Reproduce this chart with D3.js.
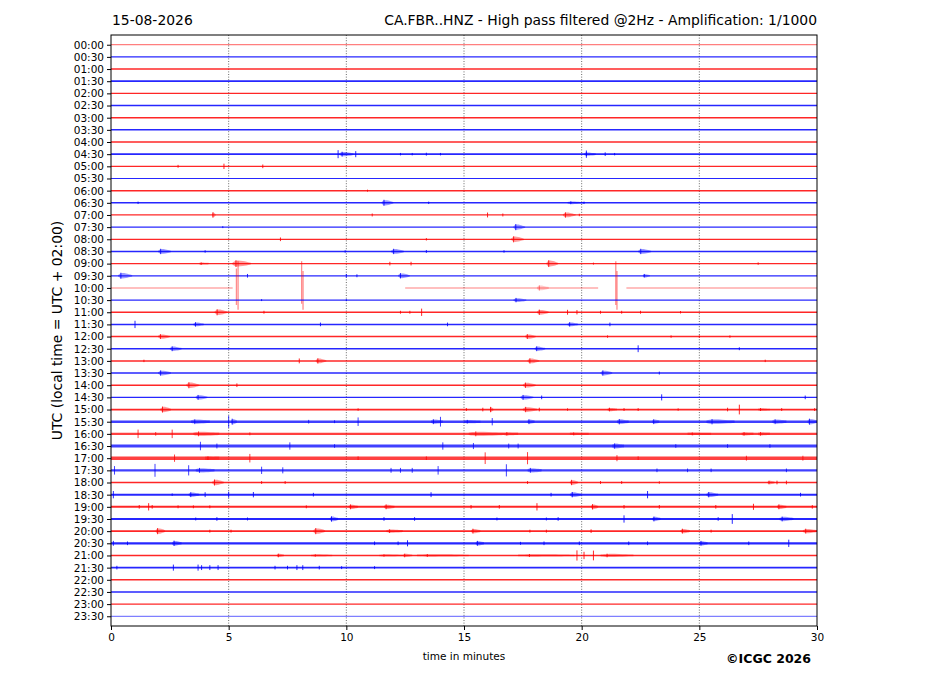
<!DOCTYPE html>
<html>
<head>
<meta charset="utf-8">
<script src="https://cdn.jsdelivr.net/npm/d3@7"></script>
<style>
  body { margin: 0; background: #fff; }
  svg { font-family: "DejaVu Sans", sans-serif; }
</style>
</head>
<body>
<svg id="heli" width="927" height="696"></svg>
<script>
var dayLabel = "15-08-2026";
var titleText = "CA.FBR..HNZ - High pass filtered @2Hz - Amplification: 1/1000";
var yAxisLabel = "UTC (local time = UTC + 02:00)";
var xAxisLabel = "time in minutes";
var creditText = "\u00a9ICGC 2026";

var hourLabels = ["00:00", "00:30", "01:00", "01:30", "02:00", "02:30", "03:00", "03:30",
  "04:00", "04:30", "05:00", "05:30", "06:00", "06:30", "07:00", "07:30",
  "08:00", "08:30", "09:00", "09:30", "10:00", "10:30", "11:00", "11:30",
  "12:00", "12:30", "13:00", "13:30", "14:00", "14:30", "15:00", "15:30",
  "16:00", "16:30", "17:00", "17:30", "18:00", "18:30", "19:00", "19:30",
  "20:00", "20:30", "21:00", "21:30", "22:00", "22:30", "23:00", "23:30"];
var minuteTicks = [0, 5, 10, 15, 20, 25, 30];

// background noise half-amplitude of each 30 min line (trace spacing = 1)
var noiseLevel = [0.05, 0.06, 0.06, 0.07, 0.06, 0.06, 0.06, 0.06,
  0.06, 0.07, 0.05, 0.05, 0.06, 0.06, 0.05, 0.05,
  0.05, 0.06, 0.06, 0.05, 0.08, 0.05, 0.06, 0.06,
  0.06, 0.06, 0.06, 0.06, 0.06, 0.06, 0.07, 0.1,
  0.1, 0.12, 0.14, 0.1, 0.07, 0.08, 0.08, 0.08,
  0.08, 0.09, 0.06, 0.07, 0.06, 0.06, 0.06, 0.05];

// 10:00 line has data gaps
var gappedLine = 20;
var gappedSegments = [[0, 5.17], [12.5, 20.7], [21.9, 30]];

// events per line: [minute, amplitude, duration (0 = spike), amplitude below (optional)]
var events = [
  [], [], [], [], [], [], [], [], [],
  [[9.65, 0.33, 0], [9.7, 0.2, 0.6], [10.4, 0.25, 0], [12.3, 0.1, 0], [12.8, 0.1, 0], [13.4, 0.12, 0], [14.0, 0.1, 0], [20.1, 0.15, 0.5], [20.2, 0.3, 0], [21.0, 0.15, 0], [21.4, 0.1, 0]],
  [[2.85, 0.12, 0], [4.8, 0.22, 0], [6.45, 0.15, 0]],
  [],
  [[10.9, 0.08, 0]],
  [[1.15, 0.1, 0], [11.5, 0.25, 0.5], [13.5, 0.1, 0], [19.4, 0.12, 0.7], [20.1, 0.1, 0]],
  [[4.3, 0.22, 0.15], [11.1, 0.12, 0], [16.0, 0.2, 0], [16.65, 0.12, 0], [19.2, 0.22, 0.55], [19.9, 0.1, 0]],
  [[4.75, 0.08, 0], [17.1, 0.25, 0.5]],
  [[7.2, 0.15, 0], [13.4, 0.1, 0], [17.0, 0.25, 0.55]],
  [[2.0, 0.22, 0.55], [4.0, 0.1, 0], [9.95, 0.1, 0], [11.9, 0.22, 0.55], [13.4, 0.12, 0], [16.7, 0.1, 0], [22.4, 0.22, 0.55]],
  [[3.75, 0.1, 0.4], [5.15, 0.28, 0.8], [11.85, 0.15, 0], [12.75, 0.15, 0], [18.5, 0.28, 0.5], [20.5, 0.08, 0], [27.5, 0.1, 0]],
  [[0.3, 0.25, 0.6], [5.8, 0.15, 0], [10.0, 0.15, 0], [10.45, 0.12, 0], [12.2, 0.22, 0.5], [22.6, 0.15, 0.3]],
  [[5.33, 1.6, 0, 1.4], [5.4, 2.2, 0, 1.8], [8.1, 2.2, 0, 1.3], [8.16, 1.4, 0, 1.8], [18.1, 0.22, 0.5], [21.45, 2.2, 0, 1.4], [21.5, 1.4, 0, 1.8]],
  [[6.4, 0.08, 0], [10.0, 0.08, 0], [17.1, 0.18, 0.55]],
  [[4.4, 0.25, 0.55], [6.5, 0.12, 0], [12.3, 0.12, 0], [12.7, 0.12, 0], [13.2, 0.3, 0], [18.1, 0.22, 0.5], [19.4, 0.2, 0], [19.8, 0.18, 0], [20.8, 0.12, 0], [21.7, 0.12, 0], [22.5, 0.12, 0], [24.2, 0.1, 0]],
  [[1.02, 0.3, 0], [3.5, 0.18, 0.45], [8.9, 0.15, 0], [14.3, 0.15, 0], [19.4, 0.18, 0.45], [21.2, 0.15, 0]],
  [[2.0, 0.2, 0.5], [17.6, 0.2, 0.45], [21.1, 0.1, 0], [23.8, 0.1, 0], [25.0, 0.1, 0], [26.3, 0.1, 0]],
  [[2.5, 0.2, 0.5], [18.0, 0.2, 0.45], [22.4, 0.28, 0], [26.7, 0.12, 0]],
  [[1.4, 0.1, 0], [8.0, 0.2, 0], [8.7, 0.22, 0.45], [17.7, 0.22, 0.5], [27.8, 0.1, 0]],
  [[2.0, 0.22, 0.55], [20.8, 0.22, 0.5], [23.3, 0.12, 0]],
  [[3.2, 0.25, 0.55], [5.35, 0.15, 0], [17.5, 0.22, 0.55]],
  [[3.6, 0.2, 0.5], [17.4, 0.2, 0.55], [18.3, 0.15, 0], [23.4, 0.25, 0], [29.5, 0.15, 0]],
  [[2.1, 0.25, 0.45], [10.5, 0.1, 0], [15.1, 0.12, 0], [15.8, 0.15, 0], [16.1, 0.22, 0.15], [17.5, 0.22, 0.6], [18.2, 0.15, 0], [19.4, 0.1, 0], [21.1, 0.15, 0.4], [21.8, 0.12, 0], [22.4, 0.12, 0], [24.1, 0.1, 0], [26.2, 0.15, 0], [26.7, 0.4, 0], [27.5, 0.12, 0.5], [28.5, 0.12, 0], [29.9, 0.12, 0]],
  [[3.4, 0.2, 0.8], [5.0, 0.5, 0], [5.1, 0.25, 0.25], [8.4, 0.15, 0], [9.5, 0.12, 0], [10.5, 0.35, 0], [13.6, 0.2, 0.5], [14.0, 0.4, 0], [15.0, 0.15, 0.7], [16.2, 0.3, 0], [17.7, 0.2, 0.3], [21.5, 0.22, 0.5], [23.0, 0.2, 0.3], [25.3, 0.22, 1.2], [28.1, 0.2, 0.6], [29.6, 0.25, 0.4]],
  [[1.15, 0.35, 0], [1.9, 0.15, 0], [2.6, 0.35, 0], [3.5, 0.2, 1.1], [5.9, 0.12, 0], [15.2, 0.2, 1.5], [16.7, 0.15, 0.6], [19.5, 0.12, 0.8], [24.5, 0.12, 1.0], [26.8, 0.15, 0.5], [27.5, 0.15, 0.5]],
  [[3.8, 0.35, 0], [4.5, 0.2, 0], [7.6, 0.3, 0], [9.5, 0.15, 0], [14.1, 0.3, 0], [15.4, 0.25, 0], [16.9, 0.2, 0], [17.3, 0.2, 0], [21.3, 0.22, 0.5], [24.0, 0.15, 0], [26.2, 0.15, 0], [28.0, 0.15, 0]],
  [[2.7, 0.3, 0], [4.0, 0.15, 0.6], [5.9, 0.35, 0], [10.5, 0.15, 0], [13.4, 0.15, 0], [15.9, 0.48, 0], [17.7, 0.5, 0], [21.5, 0.25, 0], [22.4, 0.15, 0], [27.0, 0.2, 0], [29.4, 0.2, 0]],
  [[0.15, 0.35, 0], [1.87, 0.53, 0], [3.3, 0.42, 0], [3.6, 0.2, 0.8], [6.4, 0.3, 0], [7.3, 0.25, 0], [11.9, 0.2, 0], [12.3, 0.2, 0], [12.8, 0.2, 0], [13.9, 0.35, 0], [16.8, 0.5, 0], [17.7, 0.2, 0.6], [23.2, 0.15, 0], [24.5, 0.15, 0], [25.5, 0.15, 0], [28.7, 0.15, 0]],
  [[4.3, 0.25, 0.5], [6.4, 0.12, 0], [7.4, 0.12, 0], [17.7, 0.12, 0], [19.5, 0.22, 0.35], [20.8, 0.12, 0], [21.7, 0.12, 0], [23.3, 0.1, 0], [27.9, 0.15, 0.3], [28.3, 0.15, 0], [28.7, 0.15, 0]],
  [[0.1, 0.3, 0], [2.6, 0.1, 0], [3.3, 0.2, 0.45], [4.0, 0.2, 0], [5.0, 0.25, 0], [6.05, 0.22, 0], [8.6, 0.15, 0], [13.6, 0.2, 0], [18.7, 0.15, 0], [19.5, 0.22, 0.5], [22.8, 0.3, 0], [25.3, 0.22, 0.5], [29.3, 0.15, 0]],
  [[1.2, 0.15, 0], [1.6, 0.3, 0], [1.75, 0.15, 0], [2.85, 0.12, 0], [3.5, 0.12, 0], [4.2, 0.12, 0], [8.3, 0.12, 0], [10.1, 0.2, 0.4], [11.6, 0.2, 0.45], [15.3, 0.15, 0], [16.5, 0.15, 0], [18.1, 0.3, 0], [20.4, 0.22, 0.3], [21.8, 0.15, 0], [23.3, 0.15, 0], [25.7, 0.15, 0], [27.3, 0.25, 0], [28.3, 0.2, 0.4], [29.8, 0.15, 0]],
  [[3.6, 0.12, 0], [4.5, 0.15, 0], [5.8, 0.12, 0], [9.3, 0.22, 0.35], [11.6, 0.15, 0], [12.9, 0.15, 0], [16.4, 0.12, 0], [18.5, 0.12, 0], [19.0, 0.15, 0], [21.8, 0.3, 0], [23.0, 0.2, 0.35], [25.8, 0.15, 0], [26.4, 0.4, 0], [28.4, 0.2, 0.6]],
  [[1.9, 0.25, 0.4], [4.2, 0.12, 0], [5.1, 0.12, 0], [8.6, 0.25, 0.5], [11.7, 0.15, 0.7], [15.3, 0.2, 0.4], [17.8, 0.12, 0], [18.5, 0.12, 0], [20.4, 0.15, 0], [24.2, 0.2, 0.4], [25.5, 0.12, 0], [29.4, 0.2, 0.6]],
  [[0.1, 0.2, 0], [0.7, 0.15, 0], [2.6, 0.22, 0.4], [11.2, 0.15, 0], [12.2, 0.15, 0], [12.6, 0.25, 0], [15.5, 0.2, 0.35], [17.4, 0.12, 0], [18.4, 0.15, 0], [19.9, 0.15, 0], [22.0, 0.15, 0], [22.8, 0.15, 0], [25.0, 0.2, 0.35], [27.1, 0.15, 0], [28.8, 0.3, 0]],
  [[7.05, 0.15, 0.3], [8.5, 0.1, 0.9], [11.4, 0.1, 1.0], [12.4, 0.15, 0.4], [13.0, 0.12, 2.2], [17.3, 0.12, 2.4], [19.8, 0.42, 0], [20.1, 0.3, 0], [20.5, 0.4, 0], [20.8, 0.15, 1.4]],
  [[0.25, 0.15, 0], [2.65, 0.25, 0], [3.7, 0.25, 0], [3.85, 0.2, 0], [4.2, 0.2, 0], [4.55, 0.2, 0], [6.97, 0.15, 0], [7.5, 0.15, 0], [7.9, 0.2, 0], [8.15, 0.2, 0], [8.85, 0.15, 0], [9.8, 0.12, 0], [11.2, 0.12, 0]],
  [], [], [], []
];

(function() {
  'use strict';

  var svg = d3.select("#heli");
  var margin = {top: 35, right: 110, bottom: 70, left: 111},
    width = svg.attr("width") - margin.left - margin.right,
    height = svg.attr("height") - margin.top - margin.bottom,
    g = svg.append("g").attr("transform", "translate(" + margin.left + "," + margin.top + ")");

  var x = d3.scaleLinear()
    .domain([0, 30])
    .range([0, width]);

  var y = d3.scaleLinear()
    .domain([-0.8, hourLabels.length - 0.2])
    .range([0, height]);

  function lineColor(i) {
    return i % 2 === 0 ? "#ff0000" : "#0000ff";
  }

  function lineAlpha(i) {
    if (i === gappedLine) return 0.25;
    if (i === 0 || i === hourLabels.length - 1) return 0.5;
    return noiseLevel[i] > 0.09 ? 0.75 : 0.85;
  }

  // grid
  g.append("g")
    .selectAll("line")
    .data(minuteTicks.slice(1, -1))
    .enter().append("line")
    .attr("x1", function(d) { return x(d); })
    .attr("x2", function(d) { return x(d); })
    .attr("y1", 0)
    .attr("y2", height)
    .attr("stroke", "#444")
    .attr("stroke-width", 0.8)
    .attr("stroke-dasharray", "1,1.6");

  var traces = g.append("g").attr("class", "traces");

  hourLabels.forEach(function(label, i) {
    var n = noiseLevel[i];
    var color = lineColor(i);
    var alpha = lineAlpha(i);
    var segs = i === gappedLine ? gappedSegments : [[0, 30]];

    var band = d3.area()
      .x(function(d) { return x(d); })
      .y0(function(d) { return y(i + n); })
      .y1(function(d) { return y(i - n); });

    var tr = traces.append("g");

    tr.selectAll("path.band")
      .data(segs)
      .enter().append("path")
      .attr("class", "band")
      .attr("d", function(s) { return band(s); })
      .attr("fill", color)
      .attr("fill-opacity", alpha);

    var evAlpha = i === gappedLine ? 0.45 : alpha;

    // bursts: soft lens shape
    var burst = d3.area()
      .curve(d3.curveBasis)
      .x(function(p) { return x(p[0]); })
      .y0(function(p) { return y(i + p[1]); })
      .y1(function(p) { return y(i - p[1]); });

    tr.selectAll("path.burst")
      .data(events[i].filter(function(e) { return e[2] > 0; }))
      .enter().append("path")
      .attr("class", "burst")
      .attr("d", function(e) {
        var t = e[0], a = e[1], d = e[2];
        return burst([[t, n], [t, n], [t + 0.2 * d, a], [t + 0.55 * d, a * 0.8], [t + d, n], [t + d, n]]);
      })
      .attr("fill", color)
      .attr("fill-opacity", evAlpha * 0.45);

    // spikes (also one at each burst onset)
    tr.selectAll("line.spike")
      .data(events[i])
      .enter().append("line")
      .attr("class", "spike")
      .attr("x1", function(e) { return x(e[0] + 0.2 * e[2]); })
      .attr("x2", function(e) { return x(e[0] + 0.2 * e[2]); })
      .attr("y1", function(e) { return y(i - e[1]); })
      .attr("y2", function(e) { return y(i + (e.length > 3 ? e[3] : e[1])); })
      .attr("stroke", color)
      .attr("stroke-opacity", evAlpha)
      .attr("stroke-width", function(e) { return e[1] > 1 ? 1.3 : 1; });
  });

  // frame
  g.append("rect")
    .attr("width", width)
    .attr("height", height)
    .attr("fill", "none")
    .attr("stroke", "#000")
    .attr("stroke-width", 1);

  var xAxis = g.append("g")
    .attr("class", "axis axis--x")
    .attr("transform", "translate(0," + height + ")")
    .call(d3.axisBottom(x).tickValues(minuteTicks).tickSize(4).tickPadding(4).tickFormat(d3.format("d")));

  var yAxis = g.append("g")
    .attr("class", "axis axis--y")
    .call(d3.axisLeft(y)
      .tickValues(d3.range(hourLabels.length))
      .tickSize(4)
      .tickPadding(3)
      .tickFormat(function(d) { return hourLabels[d]; }));

  [xAxis, yAxis].forEach(function(ax) {
    ax.select(".domain").remove();
    ax.selectAll("text")
      .attr("fill", "#000")
      .style("font-family", "DejaVu Sans")
      .style("font-size", "10.5px");
    ax.selectAll("line").attr("stroke", "#000");
  });

  svg.append("text")
    .attr("x", margin.left + 1)
    .attr("y", 25)
    .style("font-size", "13.9px")
    .text(dayLabel);

  svg.append("text")
    .attr("x", margin.left + width)
    .attr("y", 25)
    .attr("text-anchor", "end")
    .style("font-size", "13.9px")
    .text(titleText);

  svg.append("text")
    .attr("transform", "translate(62," + (margin.top + height / 2) + ") rotate(-90)")
    .attr("text-anchor", "middle")
    .style("font-size", "13.9px")
    .text(yAxisLabel);

  svg.append("text")
    .attr("x", margin.left + width / 2)
    .attr("y", 660)
    .attr("text-anchor", "middle")
    .style("font-size", "10.5px")
    .text(xAxisLabel);

  svg.append("text")
    .attr("x", 811)
    .attr("y", 663)
    .attr("text-anchor", "end")
    .style("font-size", "12.5px")
    .style("font-weight", "bold")
    .text(creditText);
}());
</script>
</body>
</html>
